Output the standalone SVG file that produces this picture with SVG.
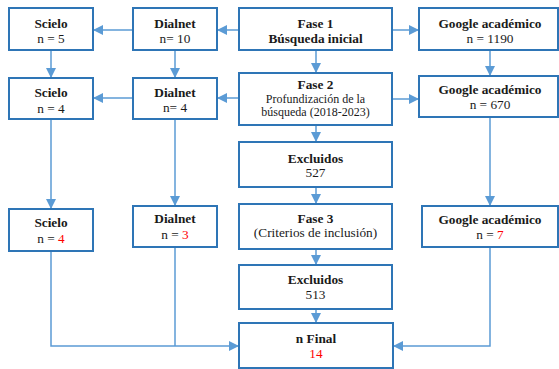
<svg xmlns="http://www.w3.org/2000/svg" width="559" height="369" viewBox="0 0 559 369">
<defs>
<marker id="ah" markerWidth="10" markerHeight="10" refX="9" refY="5" orient="auto" markerUnits="userSpaceOnUse">
<path d="M0,0 L10,5 L0,10 Z" fill="#5B9BD5"/>
</marker>
<style>
.box{fill:#fff;stroke:#2E75B6;stroke-width:2}
.ln{fill:none;stroke:#5B9BD5;stroke-width:1.5}
.ar{marker-end:url(#ah)}
text{font-family:'Liberation Serif',serif;text-anchor:middle;fill:#1a1a1a}
.t{font-weight:bold;font-size:13.3px}
.s{font-size:13.3px}
.m{font-size:12px}
.r{fill:#ff0000}
</style>
</defs>
<rect width="559" height="369" fill="#fff"/>
<g id="connectors">
<line class="ln ar" x1="239" y1="30" x2="218" y2="30"/>
<line class="ln ar" x1="133" y1="30" x2="94" y2="30"/>
<line class="ln ar" x1="392" y1="30" x2="418" y2="30"/>
<line class="ln ar" x1="51" y1="50" x2="51" y2="77"/>
<line class="ln ar" x1="175" y1="50" x2="175" y2="77"/>
<line class="ln ar" x1="316" y1="50" x2="316" y2="72"/>
<line class="ln ar" x1="490" y1="50" x2="490" y2="75"/>
<line class="ln ar" x1="239" y1="98" x2="218" y2="98"/>
<line class="ln ar" x1="133" y1="98" x2="94" y2="98"/>
<line class="ln ar" x1="392" y1="99" x2="418" y2="99"/>
<line class="ln ar" x1="316" y1="125" x2="316" y2="141"/>
<line class="ln ar" x1="51" y1="119" x2="51" y2="208"/>
<line class="ln ar" x1="175" y1="119" x2="175" y2="205"/>
<line class="ln ar" x1="490" y1="117" x2="490" y2="205"/>
<line class="ln ar" x1="316" y1="187" x2="316" y2="203"/>
<line class="ln ar" x1="316" y1="249" x2="316" y2="264"/>
<line class="ln ar" x1="316" y1="309" x2="316" y2="322"/>
<polyline class="ln ar" points="51,251 51,346 238,346"/>
<line class="ln" x1="175" y1="247" x2="175" y2="346"/>
<polyline class="ln ar" points="490,247 490,346 394,346"/>
</g>
<g id="scielo1"><rect class="box" x="9" y="8" width="84" height="42"/><text class="t" x="51" y="28">Scielo</text><text class="s" x="51" y="43">n = 5</text></g>
<g id="dialnet1"><rect class="box" x="133" y="8" width="84" height="42"/><text class="t" x="175" y="28">Dialnet</text><text class="s" x="175" y="43">n= 10</text></g>
<g id="fase1"><rect class="box" x="239" y="8" width="153" height="42"/><text class="t" x="315.5" y="28">Fase 1</text><text class="t" x="315.5" y="43">Búsqueda inicial</text></g>
<g id="google1"><rect class="box" x="419" y="8" width="139" height="42"/><text class="t" x="490" y="28">Google académico</text><text class="s" x="490" y="43">n = 1190</text></g>
<g id="scielo2"><rect class="box" x="9" y="78" width="84" height="41"/><text class="t" x="51" y="97">Scielo</text><text class="s" x="51" y="113">n = 4</text></g>
<g id="dialnet2"><rect class="box" x="133" y="78" width="84" height="41"/><text class="t" x="175" y="97">Dialnet</text><text class="s" x="175" y="112">n= 4</text></g>
<g id="fase2"><rect class="box" x="239" y="73" width="153" height="52"/><text class="t" x="315.5" y="89">Fase 2</text><text class="m" x="315.5" y="103">Profundización de la</text><text class="m" x="315.5" y="116">búsqueda (2018-2023)</text></g>
<g id="google2"><rect class="box" x="419" y="76" width="139" height="41"/><text class="t" x="490" y="94">Google académico</text><text class="s" x="490" y="109">n = 670</text></g>
<g id="excluidos1"><rect class="box" x="239" y="142" width="153" height="45"/><text class="t" x="315.5" y="163">Excluidos</text><text class="s" x="315.5" y="177">527</text></g>
<g id="fase3"><rect class="box" x="239" y="204" width="153" height="45"/><text class="t" x="315.5" y="223">Fase 3</text><text class="s" x="315.5" y="237">(Criterios de inclusión)</text></g>
<g id="scielo3"><rect class="box" x="9" y="209" width="84" height="42"/><text class="t" x="51" y="227">Scielo</text><text class="s" x="51" y="243">n = <tspan class="r">4</tspan></text></g>
<g id="dialnet3"><rect class="box" x="133" y="206" width="84" height="41"/><text class="t" x="175" y="223">Dialnet</text><text class="s" x="175" y="239">n = <tspan class="r">3</tspan></text></g>
<g id="google3"><rect class="box" x="422" y="206" width="136" height="41"/><text class="t" x="490" y="224">Google académico</text><text class="s" x="490" y="239">n = <tspan class="r">7</tspan></text></g>
<g id="excluidos2"><rect class="box" x="239" y="265" width="153" height="44"/><text class="t" x="315.5" y="284">Excluidos</text><text class="s" x="315.5" y="299">513</text></g>
<g id="nfinal"><rect class="box" x="239" y="323" width="154" height="45"/><text class="t" x="316" y="343">n Final</text><text class="s r" x="316" y="358">14</text></g>
</svg>
